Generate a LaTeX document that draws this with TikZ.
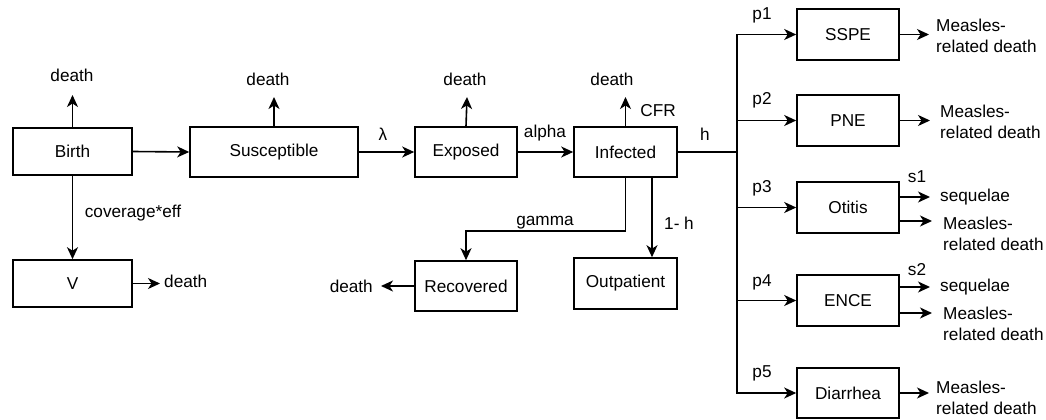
\documentclass[tikz,border=0pt]{standalone}
\usepackage{fontspec}
\setmainfont{Liberation Sans}
\usetikzlibrary{arrows.meta}
\begin{document}
\begin{tikzpicture}[x=1pt,y=-1pt,
  every node/.style={font=\fontsize{17.2}{20.5}\selectfont},
  box/.style={draw, line width=1.6pt, minimum height=50pt, inner sep=0pt},
  lab/.style={inner sep=0pt},
  ml/.style={inner sep=0pt, align=left, anchor=west},
  arr/.style={line width=1.6pt, -{Stealth[length=12pt,width=11pt,inset=3.5pt]}},
  ln/.style={line width=1.6pt}]
\useasboundingbox (0,0) rectangle (1046,420);
\fill[white] (0,0) rectangle (1046,420);
% boxes
\node[box, minimum width=119pt, minimum height=47pt] (birth) at (72.5,151.5) {Birth};
\node[box, minimum width=168pt] (susc) at (274,152) {Susceptible};
\node[box, minimum width=119pt, minimum height=47pt] (v) at (72.5,283.5) {V};
\node[box, minimum width=102pt] (exp) at (466,152) {Exposed};
\node[box, minimum width=103pt] (inf) at (625.5,152) {Infected};
\node[box, minimum width=102pt] (rec) at (466,286) {Recovered};
\node[box, minimum width=103pt, minimum height=51pt] (out) at (625.5,283.5) {Outpatient};
\node[box, minimum width=102pt, minimum height=51pt] (sspe) at (848,34.5) {SSPE};
\node[box, minimum width=102pt, minimum height=51pt] (pne) at (848,120.5) {PNE};
\node[box, minimum width=102pt, minimum height=51pt] (oti) at (848,207.5) {Otitis};
\node[box, minimum width=102pt, minimum height=51pt] (ence) at (848,300.5) {ENCE};
\node[box, minimum width=102pt] (dia) at (848,393) {Diarrhea};
% death labels
\node[lab] (d1) at (72,75) {death};
\node[lab] (d2) at (268,79) {death};
\node[lab] (d3) at (465,79) {death};
\node[lab] (d4) at (612,79) {death};
\node[lab, anchor=west] (dv) at (164,281) {death};
\node[lab, anchor=east] (dr) at (373,286) {death};
\coordinate (d1e) at (72.5,95);
\coordinate (d2e) at (274,97);
\coordinate (d3e) at (467,97);
\coordinate (d4e) at (625.5,97);
\coordinate (dve) at (160,283.5);
\coordinate (dre) at (381,286);
\draw[arr] (birth.north) -- (d1e);
\draw[arr] (susc.north) -- (d2e);
\draw[arr] (exp.north) -- (d3e);
\draw[arr] (inf.north) -- (d4e);
\draw[arr] (v.east) -- (dve);
\draw[arr] (rec.west) -- (dre);
% flow labels
\node[lab] (cfr) at (658,111) {CFR};
\node[lab] (lam) at (383,134) {λ};
\node[lab] (alpha) at (545,133) {alpha};
\node[lab] (h) at (705,134) {h};
\node[lab] (cov) at (133,213) {coverage*eff};
\node[lab] (gam) at (545,223) {gamma};
\node[lab] (oneh) at (679,223) {1- h};
% main flow
\draw[arr] (birth.east) -- (susc.west);
\draw[arr] (susc.east) -- (exp.west);
\draw[arr] (exp.east) -- (inf.west);
\draw[arr] (birth.south) -- (v.north);
\draw[arr] (inf.south) -- ++(0,53) -| (rec.north);
\draw[arr] ([xshift=26.5pt]inf.south) -- ([xshift=26.5pt]out.north);
% branches
\coordinate (j) at (737,152);
\draw[ln] (inf.east) -- (j);
\draw[arr] (j) |- (sspe.west);
\draw[arr] (j) |- (pne.west);
\draw[arr] (j) |- (oti.west);
\draw[arr] (j) |- (ence.west);
\draw[arr] (j) |- (dia.west);
\node[lab] (p1) at (762,15) {p1};
\node[lab] (p2) at (762,100) {p2};
\node[lab] (p3) at (762,188) {p3};
\node[lab] (p4) at (762,282) {p4};
\node[lab] (p5) at (762,373) {p5};
\node[lab] (s1) at (917,177) {s1};
\node[lab] (s2) at (917,270) {s2};
% outcomes
\node[ml] (m1) at (936,36) {Measles-\\related death};
\node[ml] (m2) at (940,122) {Measles-\\related death};
\node[ml] (q1) at (940,197) {sequelae};
\node[ml] (m3) at (943,234) {Measles-\\related death};
\node[ml] (q2) at (940,287) {sequelae};
\node[ml] (m4) at (943,324) {Measles-\\related death};
\node[ml] (m5) at (936,398) {Measles-\\related death};
\coordinate (e1) at (929,34.5);
\coordinate (e2) at (930,120.5);
\coordinate (e3) at (930,197);
\coordinate (e4) at (932,221);
\coordinate (e5) at (930,287);
\coordinate (e6) at (932,313);
\coordinate (e7) at (929,393);
\draw[arr] (sspe.east) -- (e1);
\draw[arr] (pne.east) -- (e2);
\draw[arr] (oti.east |- e3) -- (e3);
\draw[arr] (oti.east |- e4) -- (e4);
\draw[arr] (ence.east |- e5) -- (e5);
\draw[arr] (ence.east |- e6) -- (e6);
\draw[arr] (dia.east) -- (e7);
\end{tikzpicture}
\end{document}
